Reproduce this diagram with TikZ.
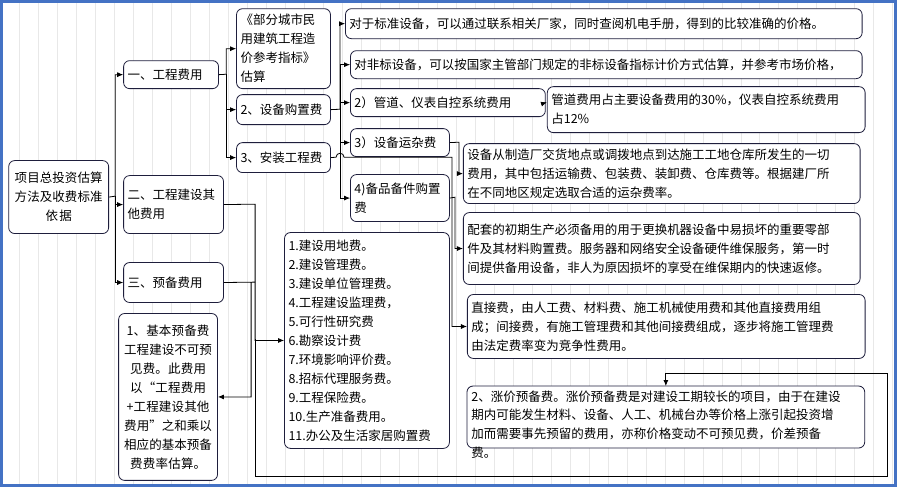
\documentclass[tikz,border=0pt]{standalone}
\usepackage{fontspec}
\newfontfamily\cjk{Noto Sans CJK SC}
\XeTeXlinebreaklocale "zh"
\XeTeXlinebreakskip=0pt plus 1pt
\usetikzlibrary{arrows.meta,positioning}
\definecolor{boxline}{RGB}{30,30,60}
\definecolor{frameblue}{RGB}{68,114,196}
\tikzset{
  box/.style={draw=boxline, rounded corners=6, fill=white, anchor=north west,
    inner sep=4, align=left, font=\cjk\fontsize{12.5}{19}\selectfont, thick},
  link/.style={-{Latex[length=6,width=5]}, thick},
  wire/.style={thick}
}
\begin{document}
\begin{tikzpicture}[x=1pt, y=-1pt]
  % background and grid
  \fill[white] (0,0) rectangle (897,487);
  \draw[gray!18, line width=0.6] (0,0) grid[step=19] (897,487);
  \draw[frameblue, line width=3] (1.5,1.5) rectangle (895.5,485.5);

  % first level
  \node[box, align=center, text width=92, minimum height=73] (root) at (8,160) {项目总投资估算\\方法及收费标准\\依据};
  \node[box, text width=87, minimum height=28] (cost) at (123,60) {一、工程费用};
  \node[box, text width=92, minimum height=58] (other) at (123,175) {二、工程建设其\\他费用};
  \node[box, text width=92, minimum height=40] (reserve) at (123,262) {三、预备费用};

  % engineering cost
  \node[box, text width=86, minimum height=80] (index) at (236,8) {《部分城市民\\用建筑工程造\\价参考指标》\\估算};
  \node[box, text width=86, minimum height=30] (equip) at (236,94) {2、设备购置费};
  \node[box, text width=86, minimum height=30] (install) at (236,142) {3、安装工程费};

  % equipment purchase
  \node[box, text width=509, minimum height=30] (std) at (345,8) {对于标准设备，可以通过联系相关厂家，同时查阅机电手册，得到的比较准确的价格。};
  \node[box, text width=504, minimum height=28] (nonstd) at (350,50) {对非标设备，可以按国家主管部门规定的非标设备指标计价方式估算，并参考市场价格，};
  \node[box, text width=187, minimum height=28] (pipe) at (350,88) {2）管道、仪表自控系统费用};
  \node[box, text width=91, minimum height=28] (freight) at (350,128) {3）设备运杂费};
  \node[box, text width=91, minimum height=47] (spare) at (350,174) {4)备品备件购置\\费};

  % descriptions
  \node[box, text width=310, minimum height=46] (pipetxt) at (547,86) {管道费用占主要设备费用的30\%，仪表自控系统费用\\占12\%};
  \node[box, text width=389, minimum height=60] (freighttxt) at (463,143) {设备从制造厂交货地点或调拨地点到达施工工地仓库所发生的一切\\费用，其中包括运输费、包装费、装卸费、仓库费等。根据建厂所\\在不同地区规定选取合适的运杂费率。};
  \node[box, text width=389, minimum height=72] (sparetxt) at (463,212) {配套的初期生产必须备用的用于更换机器设备中易损坏的重要零部\\件及其材料购置费。服务器和网络安全设备硬件维保服务，第一时\\间提供备用设备，非人为原因损坏的享受在维保期内的快速返修。};
  \node[box, text width=390, minimum height=64] (installtxt) at (467,294) {直接费，由人工费、材料费、施工机械使用费和其他直接费用组\\成；间接费，有施工管理费和其他间接费组成，逐步将施工管理费\\由法定费率变为竞争性费用。};

  % other and reserve costs
  \node[box, text width=157, minimum height=216] (items) at (284,232) {1.建设用地费。\\2.建设管理费。\\3.建设单位管理费。\\4.工程建设监理费，\\5.可行性研究费\\6.勘察设计费\\7.环境影响评价费。\\8.招标代理服务费。\\9.工程保险费。\\10.生产准备费用。\\11.办公及生活家居购置费};
  \node[box, align=center, text width=91, minimum height=167] (basic) at (118,313) {1、基本预备费\\工程建设不可预\\见费。此费用\\以“工程费用\\+工程建设其他\\费用”之和乘以\\相应的基本预备\\费费率估算。};
  \draw[boxline, thick, rounded corners=6, fill=white] (467,386) rectangle (865,448);
  \node[box, draw=none, fill=none, rounded corners=0, text width=395] (rise) at (467,386) {2、涨价预备费。涨价预备费是对建设工期较长的项目，由于在建设\\期内可能发生材料、设备、人工、机械台办等价格上涨引起投资增\\加而需要事先预留的费用，亦称价格变动不可预见费，价差预备\\费。};
  \coordinate (risetop) at (666,386);

  % connectors
  \draw[link] (root.east) -- (115,196) |- (cost.west);
  \draw[link] (115,196) |- (other.west);
  \draw[link] (115,196) |- (reserve.west);
  \draw[link] (cost.east) -- (226,74) |- (index.west);
  \draw[link] (226,74) |- (equip.west);
  \draw[link] (226,74) |- (install.west);
  \draw[link] (equip.east) -- (340,109) |- (std.west);
  \draw[link] (340,109) |- (nonstd.west);
  \draw[link] (340,109) |- (pipe.west);
  \draw[link] (340,109) |- (freight.west);
  \draw[link] (340,109) |- (spare.west);
  \draw[link] (install.east) -- (336,157) arc(180:360:4) -- (452,157) |- (installtxt.west);
  \draw[link] (pipe.east) -- (547,102);
  \draw[link] (freight.east) -- (459,142) |- (freighttxt.west);
  \draw[link] (spare.east) -- (455,197) |- (sparetxt.west);
  \draw[link] (other.east) -- (255,204) |- (items.west);
  \draw[link] (255,339) -- (255,476) -- (888,476) -- (888,373) -| (risetop);
  \draw[link] (reserve.east) -- (255,282) (251,282) |- (basic.east);
\end{tikzpicture}
\end{document}
